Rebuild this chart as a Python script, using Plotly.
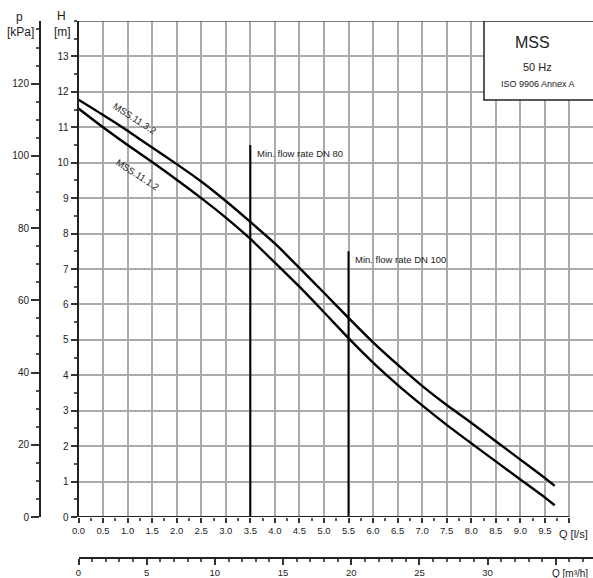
import plotly.graph_objects as go

# Data
q_upper = [0.0, 0.5, 1.0, 1.5, 2.0, 2.5, 3.0, 3.5, 4.0, 4.5, 5.0, 5.5, 6.0, 6.5, 7.0, 7.5, 8.0, 8.5, 9.0, 9.5, 9.7]
h_upper = [11.78, 11.35, 10.9, 10.43, 9.96, 9.47, 8.92, 8.33, 7.72, 7.03, 6.33, 5.62, 4.93, 4.3, 3.7, 3.16, 2.66, 2.14, 1.62, 1.1, 0.88]
q_lower = [0.0, 0.5, 1.0, 1.5, 2.0, 2.5, 3.0, 3.5, 4.0, 4.5, 5.0, 5.5, 6.0, 6.5, 7.0, 7.5, 8.0, 8.5, 9.0, 9.5, 9.7]
h_lower = [11.53, 11.0, 10.5, 10.02, 9.52, 9.0, 8.45, 7.85, 7.18, 6.5, 5.78, 5.05, 4.36, 3.73, 3.15, 2.6, 2.08, 1.57, 1.06, 0.55, 0.33]
name_upper = "MSS.11.3.2"
name_lower = "MSS.11.1.2"

minflow_q = [3.5, 5.5]
minflow_top = [10.5, 7.5]
minflow_text = ["Min. flow rate DN 80", "Min. flow rate DN 100"]

q_ticks = [i * 0.5 for i in range(21)]
q_ticktext = [f"{v:.1f}" for v in q_ticks[:-1]] + [""]
h_ticks = list(range(14))
p_ticks = [0, 20, 40, 60, 80, 100, 120]
qm3_ticks = [0, 5, 10, 15, 20, 25, 30, 35]
qm3_ticktext = ["0", "5", "10", "15", "20", "25", "30", ""]

G = 9.81  # kPa per m
X_MAX = 10.48
H_MAX = 14.0

FONT = "Arial, Liberation Sans, sans-serif"
TXT = "#222222"

fig = go.Figure()

fig.add_trace(go.Scatter(x=q_upper, y=h_upper, mode="lines",
                         line=dict(color="black", width=2.4, shape="spline", smoothing=0.6),
                         hoverinfo="skip"))
fig.add_trace(go.Scatter(x=q_lower, y=h_lower, mode="lines",
                         line=dict(color="black", width=2.4, shape="spline", smoothing=0.6),
                         hoverinfo="skip"))
for q, top in zip(minflow_q, minflow_top):
    fig.add_trace(go.Scatter(x=[q, q], y=[0, top], mode="lines",
                             line=dict(color="black", width=2), hoverinfo="skip"))

# invisible traces to activate secondary axes
fig.add_trace(go.Scatter(x=[0], y=[0], yaxis="y2", mode="markers",
                         marker=dict(opacity=0), hoverinfo="skip"))
fig.add_trace(go.Scatter(x=[0], y=[0], xaxis="x2", mode="markers",
                         marker=dict(opacity=0), hoverinfo="skip"))

dom_x0 = (78.5 - 40) / 553
dom_y0 = (558 - 517) / 537

fig.update_layout(
    width=593, height=578,
    margin=dict(l=40, r=0, t=21, b=20),
    paper_bgcolor="white", plot_bgcolor="white",
    showlegend=False,
    font=dict(family=FONT, color=TXT, size=10),
    xaxis=dict(
        domain=[dom_x0, 1], range=[0, X_MAX], anchor="y",
        tickmode="array", tickvals=q_ticks, ticktext=q_ticktext,
        ticks="outside", ticklen=5, tickwidth=1.5, tickcolor="#333",
        tickfont=dict(size=9.5, color=TXT),
        minor=dict(tickmode="array", tickvals=[0.25 + 0.5 * i for i in range(20)],
                   ticks="outside", ticklen=3, tickcolor="#555", showgrid=False),
        showgrid=True, gridcolor="#ababab", gridwidth=1.5,
        showline=False, zeroline=False, fixedrange=True,
    ),
    xaxis2=dict(
        overlaying="x", anchor="free", position=0, side="bottom",
        domain=[dom_x0, 1], range=[0, X_MAX * 3.6],
        tickmode="array", tickvals=qm3_ticks, ticktext=qm3_ticktext,
        ticks="outside", ticklen=6, tickwidth=1.5, tickcolor="#333",
        tickfont=dict(size=9.5, color=TXT),
        minor=dict(dtick=1, ticks="outside", ticklen=3, tickcolor="#555", showgrid=False),
        showgrid=False, showline=True, linecolor="#222", linewidth=1.5, zeroline=False,
    ),
    yaxis=dict(
        domain=[dom_y0, 1], range=[0, H_MAX], anchor="x",
        tickmode="array", tickvals=h_ticks,
        ticks="outside", ticklen=6, tickwidth=1.5, tickcolor="#333",
        tickfont=dict(size=10, color=TXT),
        minor=dict(dtick=0.5, ticks="outside", ticklen=3, tickcolor="#555", showgrid=False),
        showgrid=True, gridcolor="#ababab", gridwidth=1.5,
        showline=True, linecolor="#222", linewidth=2, zeroline=False,
    ),
    yaxis2=dict(
        overlaying="y", anchor="free", position=0, side="left",
        range=[0, H_MAX * G],
        tickmode="array", tickvals=p_ticks,
        ticks="outside", ticklen=8, tickwidth=1.5, tickcolor="#333",
        tickfont=dict(size=10, color=TXT),
        minor=dict(dtick=5, ticks="outside", ticklen=3, tickcolor="#555", showgrid=False),
        showgrid=False, showline=True, linecolor="#222", linewidth=2, zeroline=False,
    ),
)

# x-axis line (H = 0) up to Q = 10
fig.add_shape(type="line", xref="x", yref="y", x0=0, x1=10, y0=0, y1=0,
              line=dict(color="#222", width=2))
# top border
fig.add_shape(type="line", xref="x", yref="y", x0=0, x1=X_MAX, y0=H_MAX, y1=H_MAX,
              line=dict(color="#555", width=1.5))

# info box
fig.add_shape(type="rect", xref="x", yref="y", x0=8.26, x1=10.7, y0=11.77, y1=H_MAX,
              line=dict(color="#222", width=1.5), fillcolor="white", layer="above")
fig.add_annotation(x=9.24, y=13.38, xref="x", yref="y", text="MSS", showarrow=False,
                   font=dict(size=16, color=TXT))
fig.add_annotation(x=9.34, y=12.7, xref="x", yref="y", text="50 Hz", showarrow=False,
                   font=dict(size=11, color=TXT))
fig.add_annotation(x=9.36, y=12.22, xref="x", yref="y", text="ISO 9906 Annex A", showarrow=False,
                   font=dict(size=9, color=TXT))

# min flow labels
for q, top, txt in zip(minflow_q, minflow_top, minflow_text):
    fig.add_annotation(x=q + 0.1, y=top - 0.23, xref="x", yref="y", text=txt,
                       showarrow=False, xanchor="left", yanchor="middle",
                       font=dict(size=9.5, color=TXT))

# curve labels
fig.add_annotation(x=1.15, y=11.24, xref="x", yref="y", text=name_upper, showarrow=False,
                   xanchor="center", yanchor="middle",
                   textangle=33, font=dict(size=9.5, color=TXT))
fig.add_annotation(x=1.2, y=9.66, xref="x", yref="y", text=name_lower, showarrow=False,
                   xanchor="center", yanchor="middle",
                   textangle=33, font=dict(size=9.5, color=TXT))

PH = 537.0
def py(ypx):
    return (558 - ypx) / PH
def px(xpx):
    return (xpx - 40) / 553.0

def label(xp, yp, text, size, xanchor="center"):
    fig.add_annotation(x=px(xp), y=py(yp), xref="paper", yref="paper", text=text,
                       showarrow=False, xanchor=xanchor, yanchor="middle",
                       font=dict(size=size, color=TXT))

label(61, 16, "H", 12)
label(62, 32, "[m]", 12)
label(19, 17, "p", 12)
label(20, 32, "[kPa]", 12)
label(557, 534, "Q [l/s]", 11, xanchor="left")
label(590, 573, "Q [m³/h]", 10, xanchor="right")

fig.write_html("out.html",
               config={"displayModeBar": False},
               post_script="document.body.style.margin='0';document.body.style.overflow='hidden';")
